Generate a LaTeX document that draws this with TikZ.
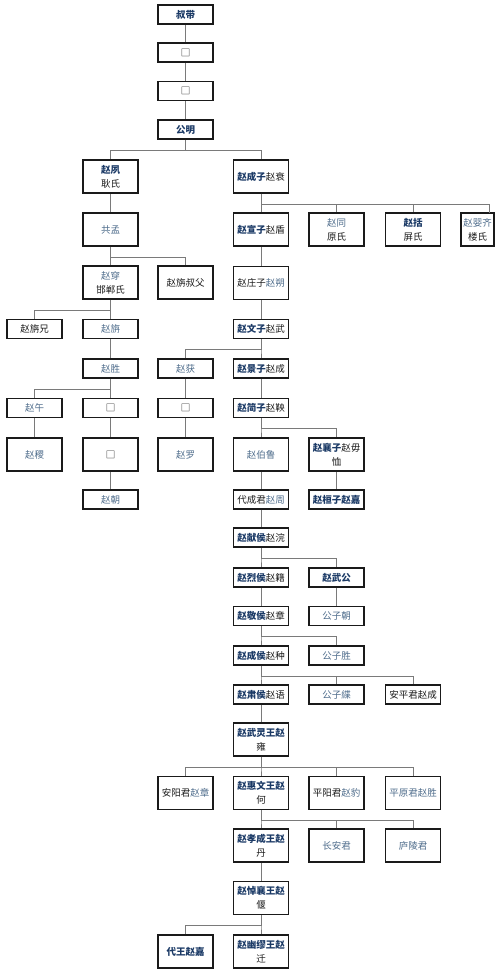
\documentclass[tikz,border=0pt]{standalone}
\usepackage{fontspec}
\setmainfont{Noto Sans CJK SC}
\definecolor{navy}{HTML}{1B3A66}
\definecolor{slate}{HTML}{4F6D8C}
\definecolor{ink}{HTML}{1A1A1A}
\definecolor{wirec}{HTML}{7A7A7A}
\newcommand\zb[1]{{\bfseries\color{navy}#1}}
\newcommand\zl[1]{{\color{slate}#1}}
\begin{document}
\begin{tikzpicture}[x=1pt,y=-1pt,
  bx/.style={draw=ink, line width=1.6pt, fill=white, minimum width=55pt, minimum height=19pt,
    inner sep=0pt, align=center, font=\fontsize{9.5}{14}\selectfont, text=ink},
  tall/.style={bx, minimum height=33pt},
  wire/.style={draw=wirec, line width=1pt}]
\useasboundingbox (0,0) rectangle (500,974);
% nodes
\node[bx] (shudai) at (185.5,14.5) {\zb{叔带}};
\node[bx] (u1) at (185.5,52.5) {□};
\node[bx] (u2) at (185.5,91) {□};
\node[bx] (gongming) at (185.5,129.5) {\zb{公明}};
\node[tall] (zhaosu) at (110.5,176.5) {\zb{赵夙}\\耿氏};
\node[tall] (chengzi) at (261,176.5) {\zb{赵成子}赵衰};
\node[tall] (gongmeng) at (110.5,229.5) {\zl{共孟}};
\node[tall] (xuanzi) at (261,229.5) {\zb{赵宣子}赵盾};
\node[tall] (zhaotong) at (336.5,229.5) {\zl{赵同}\\原氏};
\node[tall] (zhaokuo) at (413,229.5) {\zb{赵括}\\屏氏};
\node[tall, minimum width=33pt] (yingqi) at (477.5,229.5) {\zl{赵婴齐}\\楼氏};
\coordinate (yqtop) at (489,213);
\node[tall] (zhaochuan) at (110.5,282.5) {\zl{赵穿}\\邯郸氏};
\node[tall] (shufu) at (185.5,282.5) {赵旃叔父};
\node[tall] (zhuangzi) at (261,283) {赵庄子\zl{赵朔}};
\node[bx] (zhanxiong) at (34.5,329) {赵旃兄};
\node[bx] (zhaozhan) at (110.5,329) {\zl{赵旃}};
\node[bx] (wenzi) at (261,329) {\zb{赵文子}赵武};
\node[bx] (zhaosheng) at (110.5,368.5) {\zl{赵胜}};
\node[bx] (zhaohuo) at (185.5,368.5) {\zl{赵获}};
\node[bx] (jingzi) at (261,368.5) {\zb{赵景子}赵成};
\node[bx] (zhaowu) at (34.5,408) {\zl{赵午}};
\node[bx] (u3) at (110.5,408) {□};
\node[bx] (u4) at (185.5,408) {□};
\node[bx] (jianzi) at (261,408) {\zb{赵简子}赵鞅};
\node[tall] (zhaoji) at (34.5,454.5) {\zl{赵稷}};
\node[tall] (u5) at (110.5,454.5) {□};
\node[tall] (zhaoluo) at (185.5,454.5) {\zl{赵罗}};
\node[tall] (bolu) at (261,454.5) {\zl{赵伯鲁}};
\node[tall] (xiangzi) at (336.5,454.5) {\zb{赵襄子}赵毋\\恤};
\node[bx] (zhaochao) at (110.5,499.5) {\zl{赵朝}};
\node[bx] (daicheng) at (261,499.5) {代成君\zl{赵周}};
\node[bx] (huanzi) at (336.5,499.5) {\zb{赵桓子赵嘉}};
\node[bx] (xianhou) at (261,537.5) {\zb{赵献侯}赵浣};
\node[bx] (liehou) at (261,577.5) {\zb{赵烈侯}赵籍};
\node[bx] (wugong) at (336.5,577.5) {\zb{赵武公}};
\node[bx] (jinghou) at (261,616) {\zb{赵敬侯}赵章};
\node[bx] (gzchao) at (336.5,616) {\zl{公子朝}};
\node[bx] (chenghou) at (261,655.5) {\zb{赵成侯}赵种};
\node[bx] (gzsheng) at (336.5,655.5) {\zl{公子胜}};
\node[bx] (suhou) at (261,694.5) {\zb{赵肃侯}赵语};
\node[bx] (gzxie) at (336.5,694.5) {\zl{公子緤}};
\node[bx] (anping) at (413,694.5) {安平君赵成};
\node[tall] (wuling) at (261,739.5) {\zb{赵武灵王赵}\\雍};
\node[tall] (anyang) at (185.5,793) {安阳君\zl{赵章}};
\node[tall] (huiwen) at (261,793) {\zb{赵惠文王赵}\\何};
\node[tall] (pingyang) at (336.5,793) {平阳君\zl{赵豹}};
\node[tall] (pingyuan) at (413,793) {\zl{平原君赵胜}};
\node[tall] (xiaocheng) at (261,845.5) {\zb{赵孝成王赵}\\丹};
\node[tall] (changan) at (336.5,845.5) {\zl{长安君}};
\node[tall] (luling) at (413,845.5) {\zl{庐陵君}};
\node[tall] (daoxiang) at (261,898) {\zb{赵悼襄王赵}\\偃};
\node[tall] (daiwang) at (185.5,951.5) {\zb{代王赵嘉}};
\node[tall] (youmiu) at (261,951.5) {\zb{赵幽缪王赵}\\迁};
% straight connectors
\foreach \a/\b in {shudai/u1,u1/u2,u2/gongming,zhaosu/gongmeng,chengzi/xuanzi,xuanzi/zhuangzi,
  zhuangzi/wenzi,zhaozhan/zhaosheng,zhaohuo/u4,u4/zhaoluo,zhaowu/zhaoji,u3/u5,u5/zhaochao,
  jingzi/jianzi,bolu/daicheng,xiangzi/huanzi,daicheng/xianhou,liehou/jinghou,wugong/gzchao,
  suhou/wuling,xiaocheng/daoxiang}
  {\draw[wire] (\a.south) -- (\b.north);}
% branching connectors
\foreach \p/\c in {gongming/zhaosu,gongming/chengzi,
  chengzi/zhaotong,chengzi/zhaokuo,
  gongmeng/zhaochuan,gongmeng/shufu,
  zhaochuan/zhanxiong,zhaochuan/zhaozhan,
  wenzi/zhaohuo,wenzi/jingzi,
  zhaosheng/zhaowu,zhaosheng/u3,
  jianzi/bolu,jianzi/xiangzi,
  xianhou/liehou,xianhou/wugong,
  jinghou/chenghou,jinghou/gzsheng,
  chenghou/suhou,chenghou/gzxie,chenghou/anping,
  wuling/anyang,wuling/huiwen,wuling/pingyang,wuling/pingyuan,
  huiwen/xiaocheng,huiwen/changan,huiwen/luling,
  daoxiang/daiwang,daoxiang/youmiu}
  {\draw[wire] (\p.south) -- ++(0,10.5) -| (\c.north);}
\draw[wire] (chengzi.south) -- ++(0,10.5) -| (yqtop);
\end{tikzpicture}
\end{document}
